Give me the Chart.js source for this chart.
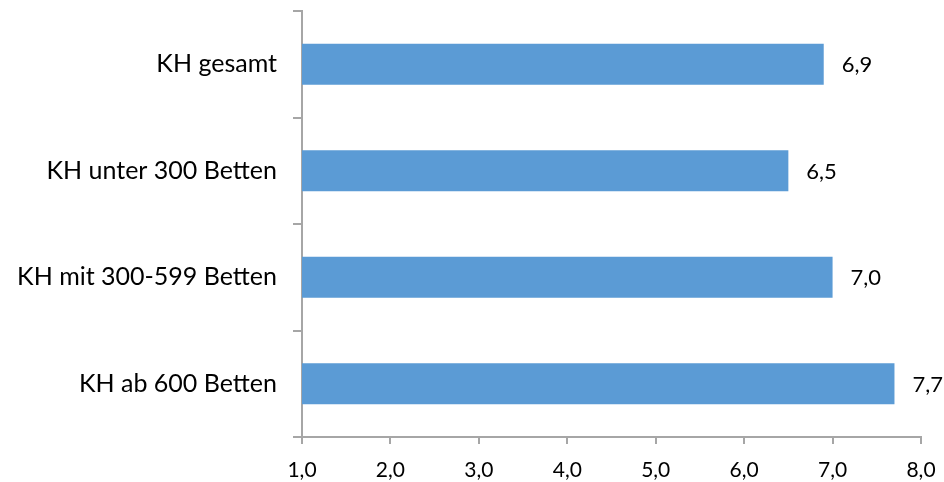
<!DOCTYPE html>
<html>
<head>
<meta charset="utf-8">
<script src="https://cdn.jsdelivr.net/npm/chart.js@4/dist/chart.umd.min.js"></script>
<style>
  html, body { margin: 0; padding: 0; background: #ffffff; }
  #wrap { width: 944px; height: 482px; }
</style>
</head>
<body>
<div id="wrap"><canvas id="c" width="944" height="482"></canvas></div>
<script>
// Kategorien und Werte
const categories = ['KH gesamt', 'KH unter 300 Betten', 'KH mit 300-599 Betten', 'KH ab 600 Betten'];
const values = [6.9, 6.5, 7.0, 7.7];
const xTicks = [1, 2, 3, 4, 5, 6, 7, 8];

const FONT = 'Lato, "Liberation Sans", sans-serif';
const AXIS = '#a6a6a6';

const fmt = v => v.toFixed(1).replace('.', ',');

// Wertbeschriftung rechts neben den Balken
const valueLabels = {
  id: 'valueLabels',
  afterDatasetsDraw(chart) {
    const ctx = chart.ctx;
    const meta = chart.getDatasetMeta(0);
    ctx.save();
    ctx.font = '22px ' + FONT;
    ctx.fillStyle = '#000000';
    ctx.textAlign = 'left';
    ctx.textBaseline = 'middle';
    meta.data.forEach((bar, i) => {
      ctx.fillText(fmt(values[i]), bar.x + 18, bar.y + 1);
    });
    ctx.restore();
  }
};

new Chart(document.getElementById('c'), {
  type: 'bar',
  data: {
    labels: categories,
    datasets: [{
      data: values,
      backgroundColor: '#5b9bd5',
      borderWidth: 0,
      categoryPercentage: 1,
      barPercentage: 0.385
    }]
  },
  options: {
    indexAxis: 'y',
    responsive: false,
    animation: false,
    layout: { padding: { top: 11, right: 23, left: 0, bottom: 0 } },
    plugins: { legend: { display: false }, tooltip: { enabled: false } },
    scales: {
      x: {
        type: 'linear',
        min: 1,
        max: 8,
        afterBuildTicks: s => { s.ticks = xTicks.map(v => ({ value: v })); },
        afterFit: s => { s.height = 45; s.paddingLeft = 0; s.paddingRight = 0; },
        border: { display: true, color: AXIS, width: 2 },
        grid: { display: true, drawOnChartArea: false, drawTicks: true, tickLength: 7, color: AXIS, lineWidth: 2 },
        ticks: {
          callback: v => fmt(v),
          color: '#000000',
          font: { family: FONT, size: 21 },
          padding: 14,
          maxRotation: 0
        }
      },
      y: {
        afterFit: s => { s.width = 302; s.paddingTop = 0; s.paddingBottom = 0; },
        border: { display: true, color: AXIS, width: 2 },
        grid: { display: true, drawOnChartArea: false, drawTicks: true, tickLength: 9, color: AXIS, lineWidth: 2, offset: true },
        ticks: {
          color: '#000000',
          font: { family: FONT, size: 25 },
          padding: 16
        }
      }
    }
  },
  plugins: [valueLabels]
});
</script>
</body>
</html>
